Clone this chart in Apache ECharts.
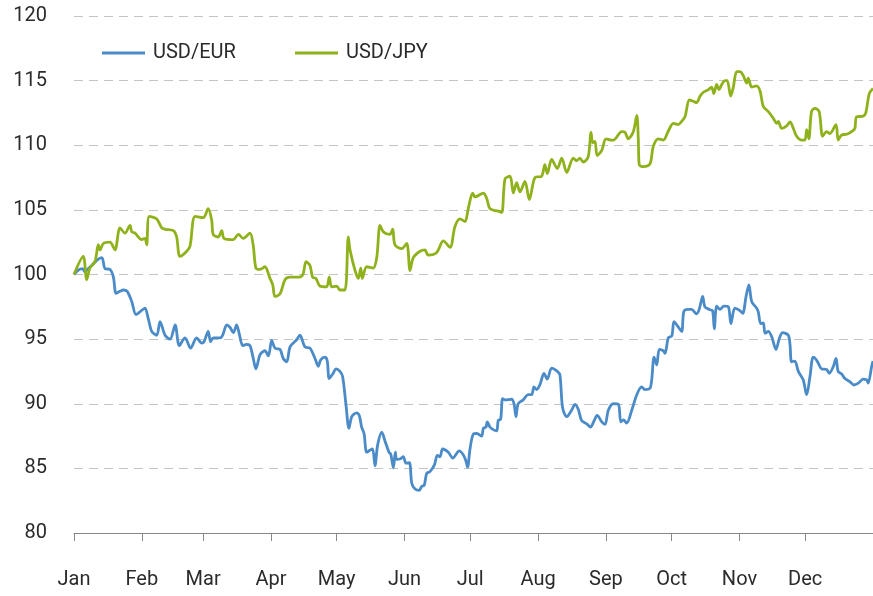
<!DOCTYPE html>
<html>
<head>
<meta charset="utf-8">
<script src="https://cdn.jsdelivr.net/npm/echarts@6/dist/echarts.min.js"></script>
<style>
  html, body { margin: 0; padding: 0; background: #fff; }
  #main { width: 873px; height: 596px; }
</style>
</head>
<body>
<div id="main"></div>
<script>
// month names and the day of year each one starts on
var months = ['Jan', 'Feb', 'Mar', 'Apr', 'May', 'Jun', 'Jul', 'Aug', 'Sep', 'Oct', 'Nov', 'Dec'];
var monthStarts = [0, 31, 59, 90, 120, 151, 181, 212, 243, 273, 304, 334];

// [day of year, index value]
var usdEur = [
  [0, 100], [2, 100.35], [3.9, 100.45], [5, 100.2], [6.5, 100.45], [8.1, 100.7], [10.4, 101.1],
  [12.7, 101.3], [14.2, 100.45], [16.4, 100.4], [18, 99.8], [19.2, 98.55], [21, 98.7], [22.5, 98.8],
  [24.3, 98.7], [26.4, 97.9], [28.3, 96.9], [30.1, 97.1], [32.4, 97.4], [33.9, 96.6], [35.5, 95.6],
  [37.8, 95.3], [39.3, 96.35], [41.6, 95.3], [43.9, 95.0], [46.2, 96.1], [48.1, 94.5], [50.7, 95.1],
  [53.3, 94.3], [56, 95.1], [58.3, 94.7], [59.4, 94.8], [61.3, 95.6], [62.4, 94.8], [63.6, 95.1],
  [66.7, 95.1], [67.9, 95.3], [69.8, 96.1], [71.3, 95.9], [72.8, 95.5], [74.3, 96.1], [75.5, 95.4],
  [77.1, 94.5], [78.9, 94.6], [80.4, 94.5], [81.9, 93.5], [83.1, 92.7], [85, 93.8], [87.2, 94.1],
  [88.8, 93.7], [90.3, 94.9], [91.8, 94.3], [94.1, 94.2], [95.6, 93.5], [97.2, 93.25], [98.7, 94.4],
  [101.7, 94.95], [103.2, 95.3], [105.5, 94.4], [107.8, 94.3], [110.1, 93.5], [111.6, 92.9],
  [112.7, 93.4], [114.7, 93.6], [115.7, 93.3], [116.6, 91.95], [118.2, 92.3], [119.7, 92.7],
  [121.5, 92.5], [122.7, 92.1], [124.2, 90.0], [125.6, 88.1], [126.9, 89.0], [129.1, 89.3],
  [130.3, 89.1], [131.4, 88.2], [132.5, 87.7], [133.7, 86.25], [135.2, 86.4], [136.4, 86.5],
  [137.5, 85.2], [138.7, 86.8], [140.6, 87.8], [142.1, 87.1], [143.9, 86.25], [144.7, 86.1],
  [145.9, 85.05], [146.8, 86.25], [147.4, 85.7], [149.2, 85.75], [150.4, 85.9], [151.7, 85.4],
  [153.2, 85.45], [154.3, 83.85], [155.8, 83.4], [157.7, 83.3], [158.8, 83.6], [160, 83.7],
  [161.1, 84.6], [162.6, 84.75], [164.6, 85.25], [166, 86.0], [167.2, 85.9], [168.4, 86.5],
  [171, 86.25], [173, 85.8], [176, 86.35], [178.6, 85.8], [179.8, 85.1], [180.9, 86.5],
  [182.4, 87.65], [184, 87.7], [186.2, 87.5], [187, 88.1], [188.2, 88.2], [188.8, 88.6],
  [190, 88.2], [191.5, 88.0], [193.1, 87.9], [193.8, 88.7], [194.9, 88.8], [195.8, 90.4],
  [196.9, 90.3], [199.9, 90.35], [201, 90.0], [201.9, 89.0], [202.9, 90.0], [205.2, 90.3],
  [207.5, 90.7], [209.1, 90.7], [210.1, 91.3], [211.4, 91.1], [212.9, 91.5], [214.7, 92.35],
  [216.2, 91.9], [218.2, 92.75], [220.8, 92.5], [222, 92.2], [223.2, 89.7], [225.1, 89.0],
  [227.3, 89.5], [228.9, 89.95], [230.4, 89.55], [231.9, 88.7], [234.2, 88.45], [236, 88.2],
  [237.5, 88.65], [239, 89.1], [241.1, 88.6], [242.6, 88.4], [244.1, 89.5], [246.4, 90.0],
  [248.7, 89.95], [249.8, 88.6], [251, 88.75], [252.5, 88.5], [254.8, 89.5], [257.1, 90.7],
  [259.3, 91.3], [260.8, 91.1], [263.1, 91.2], [263.9, 91.85], [265, 93.6], [266.2, 93.0],
  [267.4, 94.2], [269.2, 94.1], [270, 93.9], [271.5, 95.1], [273.1, 95.25], [274.1, 96.35],
  [276, 95.95], [277.6, 95.6], [278.6, 97.15], [280.6, 97.3], [282.1, 97.3], [284.4, 96.95],
  [285.6, 97.3], [287.2, 98.3], [288.2, 97.5], [290.2, 97.3], [291.7, 97.2], [292.5, 95.8],
  [293.6, 97.55], [295.1, 97.3], [296.9, 97.55], [298.9, 97.5], [300.1, 96.2], [301.9, 97.4],
  [304.2, 97.2], [305.5, 97.0], [307, 98.3], [308.3, 99.2], [309.6, 97.9], [311.8, 97.4],
  [312.6, 97.1], [313.7, 96.2], [314.9, 96.25], [315.7, 95.45], [317.2, 95.6], [318.7, 95.2],
  [320.7, 94.2], [322.2, 95.05], [323.7, 95.5], [326.3, 95.3], [327.1, 94.55], [327.8, 93.25],
  [329.3, 93.3], [330.9, 92.5], [333.1, 91.85], [334.7, 90.7], [336.2, 92.1], [337.7, 93.6],
  [339.5, 93.3], [341.5, 92.7], [343.8, 92.65], [345, 92.35], [346.8, 92.85], [348.1, 93.5],
  [349.1, 92.5], [350.7, 92.3], [352.2, 91.95], [354.5, 91.7], [356.3, 91.45], [358.3, 91.6],
  [360.5, 91.9], [362.1, 91.85], [362.8, 91.6], [364.4, 92.9], [365, 93.3]
];

var usdJpy = [
  [0, 100], [4.2, 101.4], [5.8, 99.6], [7.3, 100.5], [9.6, 101], [11.1, 102.3], [11.9, 101.9],
  [13.4, 102.4], [16.4, 102.5], [18.7, 101.9], [21, 103.6], [23.3, 103.2], [25.6, 103.8],
  [26.4, 103.3], [27.9, 103.2], [30.9, 102.7], [32.4, 102.8], [33.2, 102.3], [34.4, 104.5],
  [37.8, 104.3], [40.1, 103.6], [41.6, 103.5], [45.4, 103.4], [46.9, 102.9], [48.4, 101.4],
  [51.5, 101.8], [53, 102.2], [55.3, 104.5], [59.1, 104.4], [61.3, 105.1], [62.9, 104.2],
  [63.6, 103.1], [65.9, 102.9], [67.5, 103.4], [68.5, 102.8], [72.8, 102.7], [75.1, 103.1],
  [77.3, 102.8], [80.4, 103.2], [81.9, 102.2], [83.1, 100.5], [85, 100.4], [87.2, 100.6],
  [89.5, 99.7], [90.8, 99.2], [91.8, 98.3], [94.1, 98.5], [96.4, 99.6], [98.7, 99.8],
  [103.2, 99.8], [104.7, 100.05], [106, 101.0], [107.8, 100.7], [109, 99.8], [110.5, 99.7],
  [112.4, 99.1], [115.4, 99.05], [116.6, 99.8], [117.7, 99.05], [120, 99.1], [121.5, 98.8],
  [123.8, 98.8], [125.3, 102.9], [126.1, 101.9], [128.4, 100.3], [129.9, 99.7], [131, 100.5],
  [131.7, 99.7], [133.7, 100.6], [136.7, 100.5], [138.3, 101.3], [139.8, 103.8], [141.3, 103.3],
  [144.3, 103.1], [145.6, 103.5], [146.6, 102.3], [149.7, 102.0], [152, 102.4], [153.5, 100.3],
  [155, 101.3], [158.1, 101.8], [160.3, 101.9], [161.8, 101.5], [165.7, 101.7], [168.7, 102.6],
  [171.8, 102.1], [174, 103.7], [176.3, 104.3], [178.6, 104.1], [180.1, 105.1], [182.1, 106.3],
  [183.2, 106.0], [187, 106.3], [188.5, 105.9], [190, 105.1], [193.8, 104.9], [195.4, 104.8],
  [196.9, 107.4], [199.2, 107.6], [200.7, 106.3], [202.2, 107.1], [203.7, 106.4], [206, 107.2],
  [208, 105.8], [210.6, 107.5], [213.6, 107.6], [215.1, 108.5], [216.2, 107.8], [218.2, 108.9],
  [220.8, 108.2], [222.8, 109.0], [225.1, 107.9], [228.1, 109.0], [229.6, 108.8], [231.1, 109.0],
  [232.6, 108.7], [234.9, 109.1], [236.2, 111.0], [236.9, 110.2], [238, 110.3], [239, 109.2],
  [241.1, 109.6], [243, 110.5], [245.6, 110.4], [246.4, 110.4], [250.2, 111.05], [251.7, 111.0],
  [253.2, 110.5], [255.5, 111.05], [257.1, 112.3], [257.8, 110.4], [258.2, 108.5], [260.1, 108.35],
  [263.1, 108.55], [264.6, 109.9], [266.9, 110.5], [269.2, 110.4], [271.5, 111.1], [273.8, 111.7],
  [276, 111.6], [277.6, 111.85], [279.1, 112.2], [281.1, 113.5], [282.9, 113.4], [284.4, 113.3],
  [286, 113.8], [287.5, 114.1], [289.8, 114.3], [291.3, 114.5], [292.3, 114.0], [293.6, 114.7],
  [294.7, 114.3], [295.9, 114.7], [297.4, 115.0], [298.4, 115.0], [300, 113.8], [301.2, 114.5],
  [302.7, 115.7], [304.2, 115.7], [305.7, 115.4], [307.3, 114.8], [308, 115.2], [309.6, 114.5],
  [311.8, 114.6], [313.4, 114.2], [314.9, 113.0], [317.2, 112.6], [319.4, 112.1], [321, 111.7],
  [321.7, 111.85], [323.3, 111.3], [325.6, 111.5], [327.1, 111.8], [328.6, 111.3], [330.1, 110.7],
  [332.4, 110.4], [333.9, 110.4], [334.7, 111.2], [335.7, 110.5], [336.9, 112.6], [338.5, 112.85],
  [340.4, 112.6], [342, 110.7], [343.8, 111.05], [345.3, 110.9], [348.1, 111.6], [349.1, 110.4],
  [350.7, 110.8], [353, 110.85], [355.2, 111.05], [356.7, 111.3], [357.5, 112.2], [360.5, 112.25],
  [361.7, 112.5], [363.3, 114.0], [365, 114.4]
];

var yTicks = { min: 80, max: 120, step: 5 };

var chart = echarts.init(document.getElementById('main'));

var textColor = '#2b2b2b';

function legendAt(left, name) {
  return {
    left: left,
    top: 38,
    itemWidth: 43,
    itemHeight: 3,
    icon: 'rect',
    textStyle: { fontFamily: 'Roboto', fontSize: 20, color: textColor, padding: [0, 0, 0, 3] },
    data: [name]
  };
}

chart.setOption({
  animation: false,
  textStyle: { fontFamily: 'Roboto' },
  grid: { left: 74, right: 0, top: 16, bottom: 63, containLabel: false },
  legend: [legendAt(97, 'USD/EUR'), legendAt(290, 'USD/JPY')],
  xAxis: {
    type: 'value',
    min: 0,
    max: 365,
    axisLine: { show: true, lineStyle: { color: '#888', width: 1 } },
    axisTick: {
      show: true,
      length: 8,
      lineStyle: { color: '#888' },
      customValues: monthStarts.concat([365])
    },
    axisLabel: {
      margin: 37,
      fontFamily: 'Roboto',
      fontSize: 20,
      color: textColor,
      customValues: monthStarts,
      formatter: function (v) {
        var i = monthStarts.indexOf(v);
        return i >= 0 ? months[i] : '';
      }
    },
    splitLine: { show: false }
  },
  yAxis: {
    type: 'value',
    min: yTicks.min,
    max: yTicks.max,
    interval: yTicks.step,
    axisLine: { show: false },
    axisTick: { show: false },
    axisLabel: { margin: 27, fontFamily: 'Roboto', fontSize: 20, color: textColor },
    splitLine: { show: true, lineStyle: { color: '#c4c4c4', type: [9, 6], width: 1 } }
  },
  series: [
    {
      name: 'USD/EUR',
      type: 'line',
      data: usdEur,
      showSymbol: false,
      symbol: 'none',
      smooth: 0.3,
      color: '#4a8bc8',
      lineStyle: { width: 2.8, color: '#4a8bc8' }
    },
    {
      name: 'USD/JPY',
      type: 'line',
      data: usdJpy,
      showSymbol: false,
      symbol: 'none',
      smooth: 0.3,
      color: '#8fb21c',
      lineStyle: { width: 2.8, color: '#8fb21c' }
    }
  ]
});
</script>
</body>
</html>
